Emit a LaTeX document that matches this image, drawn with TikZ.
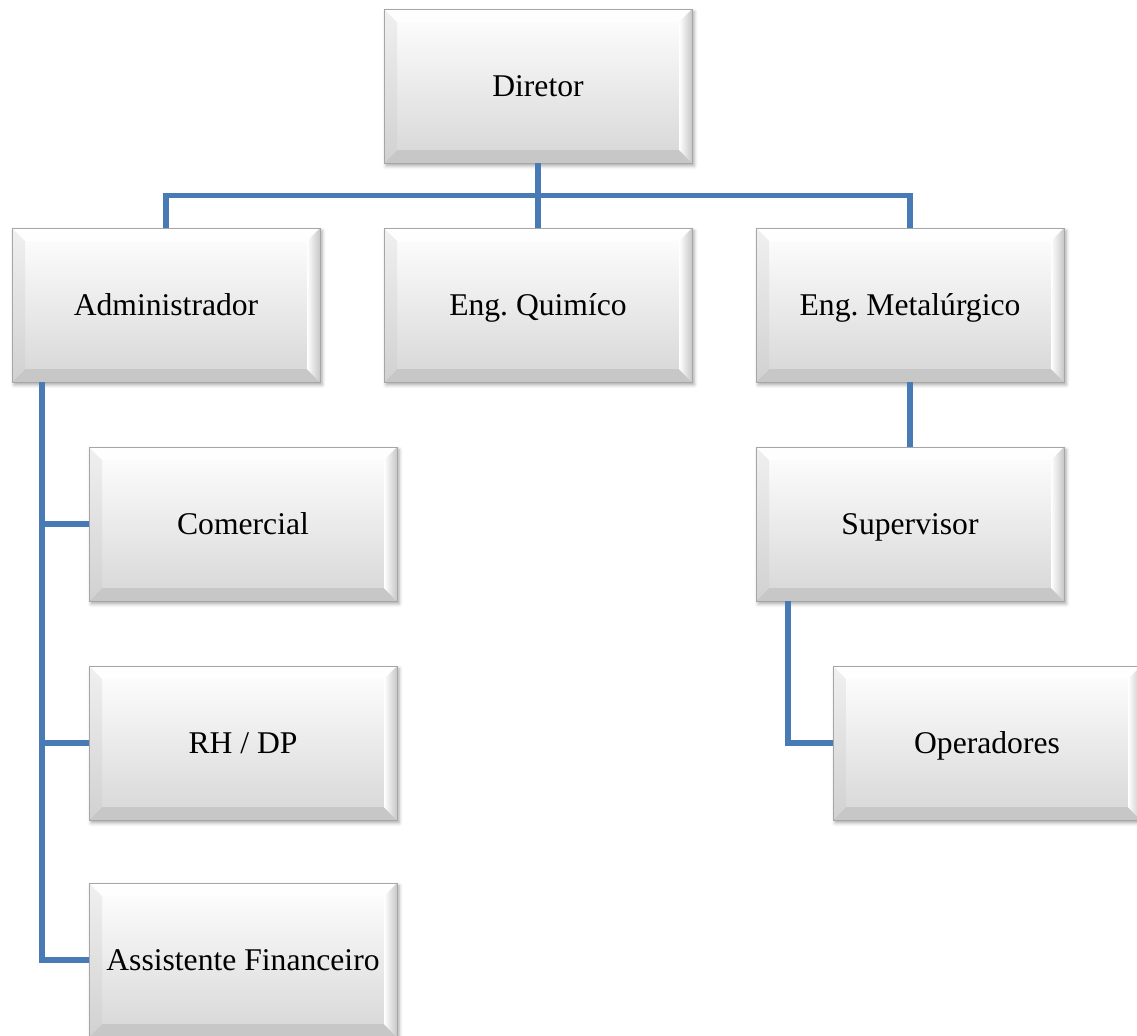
\documentclass[tikz,border=0pt]{standalone}
\usepackage{fontspec}
\setmainfont{Liberation Serif}
\usepackage{tikz}
\usetikzlibrary{calc,shadows.blur,positioning}
\frenchspacing
\definecolor{linkblue}{RGB}{72,122,182}
\tikzset{
    link/.style={draw=linkblue,line width=3.3pt},
    bevel size/.store in=\bv,
    bevel size=0.26cm,
    cargo/.style={rectangle,minimum width=6.16cm,minimum height=3.08cm,inner sep=0pt,
        draw=black!35,thin,top color=white,bottom color=black!16,
        font=\fontsize{18}{21}\selectfont,text height=15pt,text depth=3.6pt,
        blur shadow={shadow xshift=1.2pt,shadow yshift=-1.6pt,shadow blur radius=2pt,shadow opacity=35},
        path picture={
            \coordinate (nw) at (path picture bounding box.north west);
            \coordinate (ne) at (path picture bounding box.north east);
            \coordinate (sw) at (path picture bounding box.south west);
            \coordinate (se) at (path picture bounding box.south east);
            % top, bottom, left, right faces of the bevel
            \fill[white,opacity=.9] (nw) -- (ne) -- ($(ne)+(-\bv,-\bv)$) -- ($(nw)+(\bv,-\bv)$) -- cycle;
            \fill[black!22] (sw) -- (se) -- ($(se)+(-\bv,\bv)$) -- ($(sw)+(\bv,\bv)$) -- cycle;
            \shade[top color=black!6,bottom color=black!18] (nw) -- (sw) -- ($(sw)+(\bv,\bv)$) -- ($(nw)+(\bv,-\bv)$) -- cycle;
            \shade[left color=white,right color=black!22] (ne) -- (se) -- ($(se)+(-\bv,\bv)$) -- ($(ne)+(-\bv,-\bv)$) -- cycle;
        }},
}

\begin{document}
\begin{tikzpicture}
    \useasboundingbox (0,0) rectangle (22.74,-20.72);

    \node[cargo] (dir) at (10.76,-1.72) {Diretor};

    \node[cargo] (adm) at (3.32,-6.10) {Administrador};
    \node[cargo] (quim) at (10.76,-6.10) {Eng. Quimíco};
    \node[cargo] (metal) at (18.20,-6.10) {Eng. Metalúrgico};

    \node[cargo] (com) at (4.86,-10.48) {Comercial};
    \node[cargo] (rh) at (4.86,-14.86) {RH / DP};
    \node[cargo] (fin) at (4.86,-19.20) {Assistente Financeiro};

    \node[cargo] (sup) at (18.20,-10.48) {Supervisor};
    \node[cargo] (oper) at (19.74,-14.86) {Operadores};

    % connectors
    \coordinate (bar) at ($(dir.south)!.5!(quim.north)$);
    \coordinate (admline) at ([xshift=.6cm]adm.south west);
    \coordinate (supline) at ([xshift=.64cm]sup.south west);
    \draw[link] (dir.south) -- (quim.north);
    \draw[link] (adm.north) |- (bar) -| (metal.north);
    \draw[link] (admline) |- (fin.west);
    \draw[link] (admline |- com.west) -- (com.west);
    \draw[link] (admline |- rh.west) -- (rh.west);
    \draw[link] (metal.south) -- (sup.north);
    \draw[link] (supline) |- (oper.west);
\end{tikzpicture}
\end{document}
